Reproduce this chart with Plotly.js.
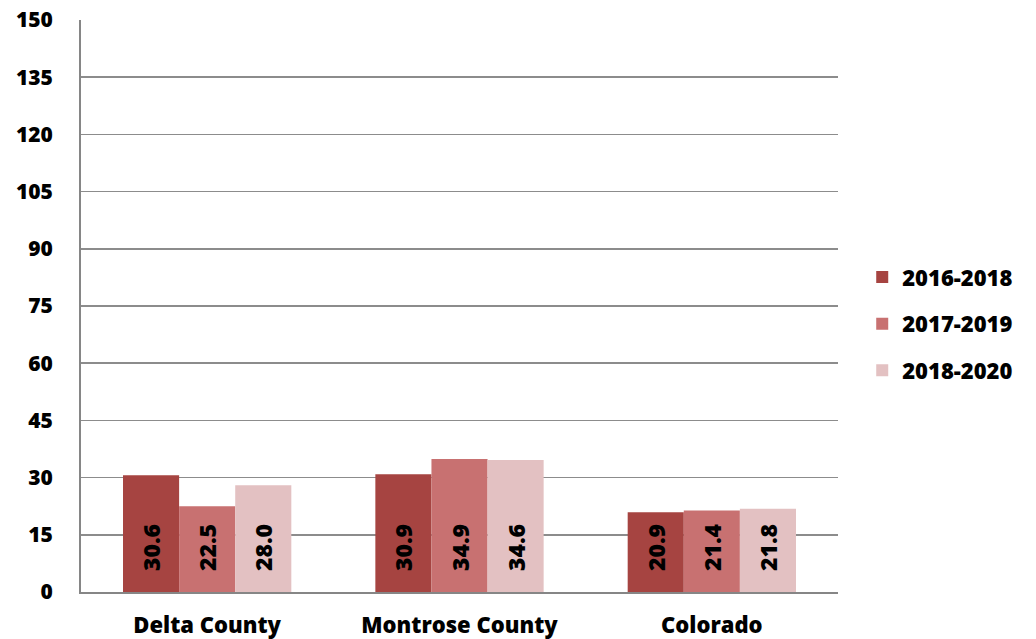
<!DOCTYPE html>
<html><head><meta charset="utf-8">
<script src="https://cdn.plot.ly/plotly-3.0.1.min.js"></script>
<style>body{margin:0;background:#fff}#c{width:1036px;height:639px}</style>
</head><body><div id="c"></div>
<script>
const categories = ["Delta County", "Montrose County", "Colorado"];
const seriesNames = ["2016-2018", "2017-2019", "2018-2020"];
const v2016_2018 = [30.6, 30.9, 20.9];
const v2017_2019 = [22.5, 34.9, 21.4];
const v2018_2020 = [28.0, 34.6, 21.8];
const yTicks = [0, 15, 30, 45, 60, 75, 90, 105, 120, 135, 150];

const colors = ["#A64441", "#C87171", "#E3C1C2"];
const values = [v2016_2018, v2017_2019, v2018_2020];
const FONT = "'Open Sans', 'Liberation Sans', sans-serif";
const W = 800;
const PAD = "\u00a0\u00a0\u00a0";

const traces = values.map((vals, i) => ({
  type: "bar",
  name: seriesNames[i],
  x: categories,
  y: vals,
  legendgroup: "g" + i,
  marker: {color: colors[i], line: {width: 0}},
  text: vals.map(v => PAD + v.toFixed(1)),
  textposition: "inside",
  insidetextanchor: "start",
  textangle: -90,
  constraintext: "none",
  textfont: {family: FONT, size: 23, color: "#000", weight: W},
  hoverinfo: "none"
}));

const layout = {
  width: 1036, height: 639,
  margin: {l: 81, r: 198, t: 20, b: 47},
  paper_bgcolor: "#fff", plot_bgcolor: "#fff",
  barmode: "group", bargap: 0.333, bargroupgap: 0,
  font: {family: FONT, size: 22, color: "#000", weight: W},
  xaxis: {
    type: "category",
    showline: true, linecolor: "#868686", linewidth: 2,
    showgrid: false, ticks: "", ticklabelstandoff: 13,
    tickfont: {family: FONT, size: 22, color: "#000", weight: W},
    fixedrange: true
  },
  yaxis: {
    range: [0, 150], tickvals: yTicks, ticktext: yTicks.map(String),
    showline: true, linecolor: "#868686", linewidth: 2,
    showgrid: true, gridcolor: "#8C8C8C", gridwidth: 1.5,
    zeroline: false, ticks: "", ticklabelstandoff: 22,
    tickfont: {family: FONT, size: 21, color: "#000", weight: W},
    fixedrange: true
  },
  showlegend: true,
  legend: {
    x: 1.032, xanchor: "left", y: 0.469, yanchor: "middle",
    traceorder: "grouped", tracegroupgap: 15,
    font: {family: FONT, size: 22, color: "#000", weight: W},
    itemwidth: 30
  }
};

Plotly.newPlot("c", traces, layout, {displayModeBar: false, staticPlot: true});
</script></body></html>
